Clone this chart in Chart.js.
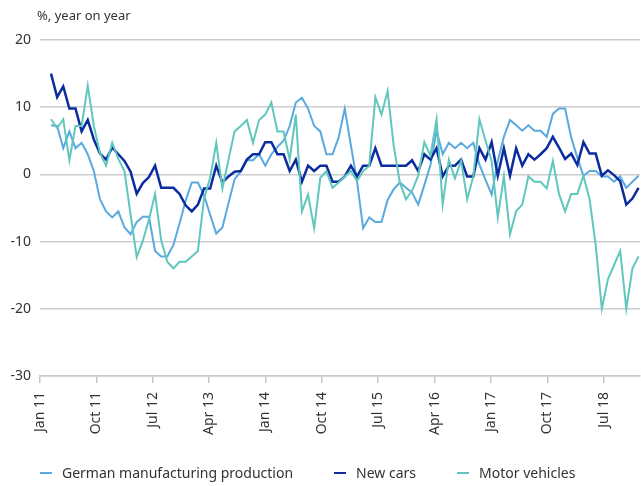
<!DOCTYPE html>
<html lang="en">

<head>
    <meta charset="UTF-8">
    <title>German manufacturing and car production</title>

    <!-- Chart.js -->
    <script src="https://cdn.jsdelivr.net/npm/chart.js"></script>

    <style>
        body {
            margin: 0;
            background: #fff;
            font-family: "Noto Sans", sans-serif;
            color: #333;
        }

        .wrap {
            position: relative;
            width: 641px;
            height: 486px;
        }

        .unit {
            position: absolute;
            left: 37px;
            top: 6px;
            font-size: 13px;
        }

        .legenda {
            position: absolute;
            left: 40px;
            top: 463px;
            display: flex;
            gap: 41px;
            font-size: 14px;
            line-height: 20px;
        }

        .legenda span.item {
            display: flex;
            align-items: center;
        }

        .legenda span.marca {
            display: inline-block;
            width: 12px;
            height: 2px;
            margin-right: 10px;
        }

        canvas {
            display: block;
        }
    </style>
</head>

<body>
    <div class="wrap">
        <div class="unit">%, year on year</div>
        <canvas id="grafico" width="641" height="486"></canvas>
        <div class="legenda" id="legenda"></div>
    </div>

    <script>
        // monthly observations, Jan 11 onwards
        var monthNames = ['Jan', 'Feb', 'Mar', 'Apr', 'May', 'Jun', 'Jul', 'Aug', 'Sep', 'Oct', 'Nov', 'Dec'];
        var months = [];
        for (var i = 0; i < 97; i++) {
            months.push(monthNames[i % 12] + ' ' + (11 + Math.floor(i / 12)));
        }

        var manufacturing = [
            7.3, 7.2, 3.9, 6.4, 3.9, 4.7, 3.0, 0.5, -3.7, -5.5,
            -6.4, -5.5, -7.9, -8.9, -7.1, -6.3, -6.3, -11.4, -12.2, -12.2,
            -10.5, -7.3, -3.9, -1.2, -1.2, -3.1, -6.0, -8.8, -7.9, -4.3,
            -0.7, 0.4, 2.1, 2.1, 3.0, 1.3, 3.0, 4.1, 5.0, 7.2,
            10.7, 11.4, 9.8, 7.2, 6.4, 3.0, 3.0, 5.5, 9.8, 4.3,
            -1.0, -8.0, -6.4, -7.1, -7.1, -3.8, -2.2, -1.2, -2.0, -2.7,
            -4.5, -1.6, 1.4, 6.5, 3.0, 4.7, 3.9, 4.7, 3.9, 4.7,
            1.5, -0.8, -3.0, 2.0, 5.6, 8.1, 7.3, 6.5, 7.3, 6.5,
            6.5, 5.6, 9.0, 9.8, 9.8, 5.5, 2.5, -0.2, 0.5, 0.5,
            -0.3, -0.3, -1.1, -0.3, -2.0, -1.1, -0.2
        ];

        var newCars = [
            15.0, 11.5, 13.1, 9.8, 9.8, 6.4, 8.1, 5.2, 3.1, 2.2,
            4.0, 3.0, 2.0, 0.4, -2.9, -1.3, -0.4, 1.3, -2.0, -2.0,
            -2.0, -2.9, -4.6, -5.5, -4.5, -2.1, -2.1, 1.3, -1.2, -0.3,
            0.4, 0.5, 2.2, 3.0, 3.0, 4.8, 4.8, 3.0, 3.0, 0.5,
            2.2, -1.1, 1.3, 0.5, 1.3, 1.3, -1.1, -1.1, -0.3, 1.3,
            -0.3, 1.3, 1.3, 3.9, 1.3, 1.3, 1.3, 1.3, 1.3, 2.1,
            0.5, 3.0, 2.2, 3.9, -0.3, 1.3, 1.3, 2.2, -0.3, -0.3,
            3.9, 2.2, 4.8, -0.2, 3.9, -0.2, 3.9, 1.3, 3.0, 2.2,
            3.0, 3.9, 5.6, 4.0, 2.3, 3.1, 1.4, 4.8, 3.1, 3.1,
            -0.2, 0.6, -0.1, -1.0, -4.5, -3.6, -2.0
        ];

        var motorVehicles = [
            8.2, 6.9, 8.2, 2.1, 7.2, 7.2, 13.2, 7.2, 3.2, 1.3,
            4.7, 2.3, 0.5, -6.0, -12.3, -9.9, -6.7, -2.9, -9.8, -13.0,
            -14.0, -13.0, -13.0, -12.2, -11.4, -3.6, -0.5, 4.7, -2.1, 2.2,
            6.4, 7.2, 8.1, 4.7, 8.1, 8.9, 10.7, 6.4, 6.4, 2.2,
            8.9, -5.5, -3.0, -8.0, -0.5, 0.5, -2.0, -1.2, -0.3, 0.5,
            -1.0, 0.5, 1.3, 11.5, 8.9, 12.4, 4.2, -1.2, -3.7, -2.4,
            -0.2, 4.8, 2.8, 8.2, -4.5, 2.2, -0.6, 2.0, -3.7, -0.3,
            8.2, 5.0, 2.0, -6.4, -0.3, -8.9, -5.5, -4.5, -0.3, -1.1,
            -1.1, -2.1, 2.0, -2.9, -5.5, -2.9, -2.9, -0.2, -3.7, -10.5,
            -20.0, -15.6, -13.5, -11.4, -20.0, -14.0, -12.2
        ];

        var tickLabels = ['Jan 11', 'Oct 11', 'Jul 12', 'Apr 13', 'Jan 14', 'Oct 14',
            'Jul 15', 'Apr 16', 'Jan 17', 'Oct 17', 'Jul 18'];

        // axis layout (in month steps, the source's date axis is slightly offset)
        var firstTick = -1.8;
        var tickStep = 9.21;

        function serie(values) {
            return values.map(function (v, i) {
                return { x: i, y: v };
            });
        }

        var fonte = { family: '"Noto Sans", sans-serif', size: 14 };
        var texto = '#333333';

        var grafico = new Chart(document.getElementById('grafico'), {
            type: 'line',
            data: {
                datasets: [{
                    label: 'German manufacturing production',
                    data: serie(manufacturing),
                    borderColor: '#5aa9e0',
                    backgroundColor: '#5aa9e0',
                    borderWidth: 2,
                    order: 3
                }, {
                    label: 'New cars',
                    data: serie(newCars),
                    borderColor: '#0b2c9e',
                    backgroundColor: '#0b2c9e',
                    borderWidth: 2.5,
                    order: 2
                }, {
                    label: 'Motor vehicles',
                    data: serie(motorVehicles),
                    borderColor: '#60c7bd',
                    backgroundColor: '#60c7bd',
                    borderWidth: 2,
                    order: 1
                }]
            },
            options: {
                responsive: false,
                animation: false,
                layout: {
                    padding: { top: 40, right: 1, bottom: 46, left: 0 }
                },
                elements: {
                    point: { radius: 0 },
                    line: { tension: 0 }
                },
                scales: {
                    x: {
                        type: 'linear',
                        min: -1.8,
                        max: 96.24,
                        afterBuildTicks: function (scale) {
                            scale.ticks = tickLabels.map(function (t, k) {
                                return { value: firstTick + k * tickStep };
                            });
                        },
                        afterFit: function (scale) {
                            scale.height = 64;
                        },
                        grid: {
                            drawOnChartArea: false,
                            drawTicks: true,
                            tickLength: 7,
                            color: '#c4c4c4',
                            lineWidth: 1.5
                        },
                        border: {
                            display: true,
                            color: '#c9c9c9',
                            width: 1.5
                        },
                        ticks: {
                            autoSkip: false,
                            minRotation: 90,
                            maxRotation: 90,
                            padding: 9,
                            color: texto,
                            font: fonte,
                            callback: function (value, index) {
                                return tickLabels[index];
                            }
                        }
                    },
                    y: {
                        min: -30,
                        max: 20,
                        afterFit: function (scale) {
                            scale.width = 40;
                        },
                        grid: {
                            drawTicks: false,
                            color: '#cdcdcd',
                            lineWidth: 1.5
                        },
                        border: { display: false },
                        ticks: {
                            stepSize: 10,
                            padding: 9,
                            color: texto,
                            font: fonte
                        }
                    }
                },
                plugins: {
                    tooltip: { enabled: false },
                    legend: { display: false }
                }
            }
        });

        // legenda em HTML, na ordem das séries
        var legenda = document.getElementById('legenda');
        grafico.data.datasets.forEach(function (ds) {
            var item = document.createElement('span');
            item.className = 'item';
            var marca = document.createElement('span');
            marca.className = 'marca';
            marca.style.background = ds.borderColor;
            item.appendChild(marca);
            item.appendChild(document.createTextNode(ds.label));
            legenda.appendChild(item);
        });
    </script>

</body>

</html>
